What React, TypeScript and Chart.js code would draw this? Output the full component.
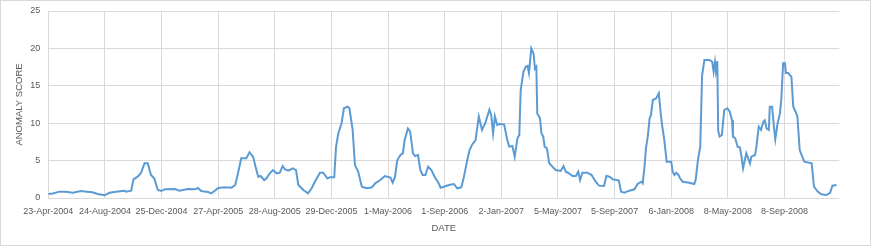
import { useEffect, useRef } from 'react';
import { Chart, registerables } from 'chart.js';

Chart.register(...registerables);

// Category positions (day offset from 23-Apr-2004) of the labelled ticks
const tickDays = [0, 123, 246, 369, 492, 615, 738, 861, 984, 1107, 1230, 1353, 1476, 1599];
const tickLabels = [
  '23-Apr-2004', '24-Aug-2004', '25-Dec-2004', '27-Apr-2005', '28-Aug-2005',
  '29-Dec-2005', '1-May-2006', '1-Sep-2006', '2-Jan-2007', '5-May-2007',
  '5-Sep-2007', '6-Jan-2008', '8-May-2008', '8-Sep-2008',
];
const lastDay = 1718;

// Day offset of each sampled point
const days = [
  0, 10, 24, 38, 53, 71, 84, 96, 107, 122, 133, 147, 165, 169, 180, 185, 194, 201, 209, 216, 223, 230, 238, 245,
  253, 275, 285, 303, 318, 325, 332, 347, 354, 361, 369, 383, 398, 406, 412, 419, 430, 437, 445, 450, 456, 461, 469, 474, 481, 488,
  496, 503, 509, 514, 521, 531, 538, 543, 554, 564, 572, 579, 590, 597, 606, 612, 621, 625, 630, 637, 642, 650, 654, 661, 666, 673, 681, 692, 703, 710, 721, 731,
  743, 748, 753, 758, 765, 770, 774, 781, 786, 792, 797, 803, 808, 813, 819, 825, 832, 839, 848, 852, 859, 870, 881, 888, 897, 902, 910, 915, 920, 928, 935, 942, 949, 958, 962, 966, 970, 975,
  979, 990, 996, 1001, 1008, 1013, 1019, 1023, 1026, 1032, 1037, 1041, 1044, 1049, 1054, 1057, 1060, 1062, 1068, 1071, 1075, 1078, 1083, 1088, 1095, 1102, 1113, 1119, 1124, 1131, 1138, 1146, 1151, 1155, 1160, 1171, 1180, 1189, 1196, 1207,
  1212, 1219, 1226, 1239, 1244, 1251, 1262, 1273, 1280, 1288, 1291, 1295, 1298, 1302, 1306, 1309, 1313, 1320, 1326, 1329, 1333, 1338, 1343, 1353, 1356, 1360, 1364, 1369, 1372, 1378, 1392, 1403, 1406, 1411, 1416, 1420, 1425, 1436, 1442, 1445, 1448, 1450, 1453, 1455, 1458, 1463,
  1468, 1475, 1480, 1485, 1487, 1492, 1497, 1502, 1505, 1509, 1516, 1524, 1527, 1535, 1538, 1543, 1548, 1553, 1556, 1560, 1565, 1567, 1572, 1576, 1579, 1584, 1589, 1592, 1596, 1600, 1602, 1607, 1614, 1618, 1623, 1627, 1632, 1636, 1642, 1658, 1663, 1671, 1679, 1690, 1698, 1703, 1712,
];

// Anomaly score at each sampled point
const scores = [
  0.53, 0.6, 0.85, 0.85, 0.7, 0.93, 0.85, 0.76, 0.53, 0.36, 0.7, 0.85, 0.98, 0.85, 0.98, 2.5, 2.85, 3.3, 4.64, 4.64, 3.07, 2.63, 1.07, 0.93,
  1.16, 1.2, 0.98, 1.2, 1.16, 1.34, 0.93, 0.8, 0.62, 0.93, 1.34, 1.43, 1.38, 1.74, 3.3, 5.3, 5.3, 6.1, 5.5, 4.2, 2.85, 2.94, 2.4, 2.63, 3.3, 3.74,
  3.3, 3.38, 4.28, 3.84, 3.65, 3.97, 3.74, 1.74, 1.07, 0.62, 1.3, 2.18, 3.38, 3.38, 2.63, 2.76, 2.76, 6.86, 8.65, 10.0, 12.0, 12.2, 12.0, 9.1, 4.4, 3.52, 1.51, 1.3, 1.43, 1.96, 2.4, 2.94,
  2.72, 2.05, 2.85, 5.08, 5.75, 5.97, 7.75, 9.3, 8.87, 5.97, 5.6, 5.75, 3.74, 3.07, 3.07, 4.19, 3.74, 2.85, 1.96, 1.38, 1.51, 1.74, 1.87, 1.3, 1.43, 2.63, 5.08, 6.42, 7.09, 7.75, 10.9, 9.1, 10.0, 11.8, 11.1, 8.65, 10.9, 9.76,
  9.9, 9.85, 7.98, 6.86, 6.95, 5.52, 7.98, 8.42, 14.4, 16.9, 17.55, 17.65, 16.7, 20.0, 19.3, 17.3, 17.55, 11.3, 10.65, 8.65, 8.2, 6.86, 6.64, 4.64, 4.19, 3.74, 3.61, 4.28, 3.52, 3.3, 2.94, 2.94, 3.52, 2.4, 3.38, 3.38, 3.07, 2.18, 1.65, 1.6,
  2.94, 2.85, 2.5, 2.32, 0.85, 0.7, 0.98, 1.16, 1.87, 2.18, 1.96, 4.19, 6.64, 8.2, 10.65, 11.1, 13.1, 13.3, 14.0, 12.0, 9.76, 7.75, 4.85, 4.85, 3.52, 3.07, 3.38, 3.07, 2.63, 2.18, 2.05, 1.87, 2.4, 5.08, 6.86, 16.4, 18.45, 18.45, 18.2, 16.9, 18.2, 17.0, 18.3, 9.0, 8.2, 8.42,
  11.76, 12.0, 11.54, 10.4, 8.2, 7.98, 6.86, 6.77, 5.75, 3.97, 5.97, 4.64, 5.52, 5.75, 6.86, 9.53, 9.1, 10.2, 10.4, 9.3, 9.1, 12.2, 12.2, 9.53, 7.84, 10.0, 11.3, 13.1, 18.0, 18.0, 16.7, 16.7, 16.2, 12.2, 11.54, 10.9, 6.42, 5.75, 4.85, 4.64, 1.51, 0.85, 0.49, 0.4, 0.7, 1.65, 1.74,
];

const GRID = '#d9d9d9';
const TEXT = '#595959';
const FONT = "'Liberation Sans', Arial, sans-serif";

export default function App() {
  const ref = useRef<HTMLCanvasElement>(null);

  useEffect(() => {
    if (!ref.current) return;
    const chart = new Chart(ref.current, {
      type: 'line',
      data: {
        datasets: [
          {
            data: days.map((d, i) => ({ x: d, y: scores[i] })),
            borderColor: '#5b9bd5',
            borderWidth: 2,
            pointRadius: 0,
            tension: 0,
            fill: false,
          },
        ],
      },
      options: {
        responsive: false,
        animation: false,
        maintainAspectRatio: false,
        layout: { padding: { top: 10, right: 30.7, bottom: 0, left: 0 } },
        plugins: { legend: { display: false }, tooltip: { enabled: false } },
        scales: {
          x: {
            type: 'linear',
            min: 0,
            max: lastDay,
            afterBuildTicks: (s: any) => {
              s.ticks = tickDays.map((v) => ({ value: v }));
            },
            afterFit: (s: any) => {
              s.height = 47;
              s.paddingLeft = 0;
              s.paddingRight = 0;
            },
            ticks: {
              autoSkip: false,
              maxRotation: 0,
              padding: 8,
              color: TEXT,
              font: { family: FONT, size: 9 },
              callback: (v: any) => {
                const i = tickDays.indexOf(Number(v));
                return i >= 0 ? tickLabels[i] : '';
              },
            },
            grid: { color: GRID, drawTicks: false },
            border: { display: false },
            title: {
              display: true,
              text: 'DATE',
              color: TEXT,
              font: { family: FONT, size: 9.5 },
              padding: 11,
            },
          },
          y: {
            min: 0,
            max: 25,
            afterFit: (s: any) => {
              s.width = 47.3;
              s.paddingTop = 0;
              s.paddingBottom = 0;
            },
            ticks: {
              stepSize: 5,
              padding: 8,
              color: TEXT,
              font: { family: FONT, size: 9 },
            },
            grid: { color: GRID, drawTicks: false },
            border: { display: false },
            title: {
              display: true,
              text: 'ANOMALY SCORE',
              color: TEXT,
              font: { family: FONT, size: 9.5 },
              padding: 13,
            },
          },
        },
      },
    });
    return () => chart.destroy();
  }, []);

  return (
    <div
      style={{
        position: 'absolute',
        left: 0,
        top: 0,
        width: 871,
        height: 246,
        boxSizing: 'border-box',
        border: '1px solid #d9d9d9',
        background: '#ffffff',
      }}
    >
      <canvas ref={ref} width={869} height={244} style={{ display: 'block' }} />
    </div>
  );
}
